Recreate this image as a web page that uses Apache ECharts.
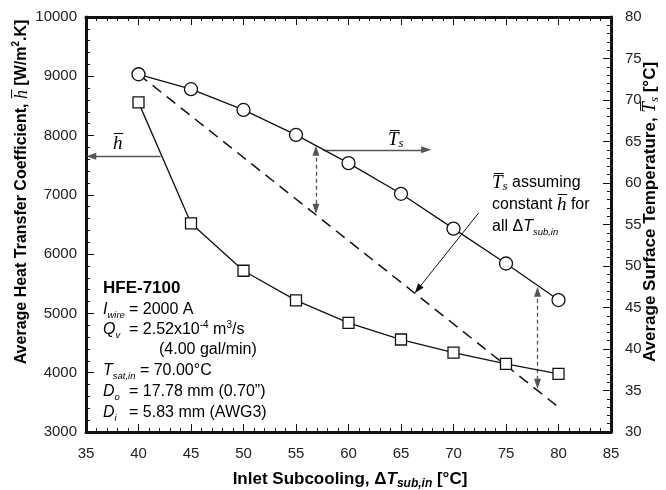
<!DOCTYPE html>
<html><head><meta charset="utf-8">
<script src="https://cdn.jsdelivr.net/npm/echarts/dist/echarts.min.js"></script>
<style>html,body{margin:0;padding:0;background:#fff}#c{width:666px;height:490px}</style>
</head><body><div id="c"></div>
<script>
// ---- data ----
const subcooling = [40, 45, 50, 55, 60, 65, 70, 75, 80];
const hValues = [8560, 6520, 5720, 5220, 4840, 4560, 4340, 4150, 3980];
const tsValues = [73.1, 71.3, 68.8, 65.8, 62.4, 58.7, 54.5, 50.3, 45.9];
const tsConstHx = [40, 80];
const tsConstHy = [73.1, 33.0];
const xRange = [35, 85, 5];
const hRange = [3000, 10000, 1000];
const tsRange = [30, 80, 5];
// annotation arrows (data coordinates)
const hArrow = [[42.1, 7650], [35.5, 7650]];
const tsArrow = [[57.6, 64.0], [67.4, 64.0]];
const gap1 = [[56.9, 63.9], [56.9, 56.9]];
const gap2 = [[78.0, 46.9], [78.0, 35.8]];
const noteArrow = [[72.4, 56.4], [66.6, 47.2]];

const F = '"Liberation Sans", Arial, Helvetica, sans-serif';
const S = '"Liberation Serif", "Times New Roman", serif';
const C = '#111';

const chart = echarts.init(document.getElementById('c'), null, {renderer: 'canvas'});

function xAxisCfg(pos, showLabel) {
  return {
    type: 'value', position: pos, min: xRange[0], max: xRange[1], interval: xRange[2],
    axisLine: {show: true, onZero: false, lineStyle: {color: C, width: 3}},
    axisTick: {show: true, inside: false, length: -8, lineStyle: {color: C, width: 1}},
    minorTick: {show: true, splitNumber: 5, length: -4, lineStyle: {color: C, width: 1}},
    axisLabel: {show: showLabel, margin: 14, fontSize: 15, color: '#222', fontFamily: F, formatter: v => String(v)},
    splitLine: {show: false}, minorSplitLine: {show: false}
  };
}
function yAxisCfg(pos, r, margin) {
  return {
    type: 'value', position: pos, min: r[0], max: r[1], interval: r[2],
    axisLine: {show: true, onZero: false, lineStyle: {color: C, width: 3}},
    axisTick: {show: true, inside: false, length: -8, lineStyle: {color: C, width: 1}},
    minorTick: {show: true, splitNumber: 5, length: -4, lineStyle: {color: C, width: 1}},
    axisLabel: {margin: margin, fontSize: 15, color: '#222', fontFamily: F, formatter: v => String(v)},
    splitLine: {show: false}, minorSplitLine: {show: false}
  };
}
function seg(p, opts, ls) {
  const a = Object.assign({coord: p[0]}, opts.from);
  if (ls) a.lineStyle = ls;
  return [a, Object.assign({coord: p[1]}, opts.to)];
}
const none = {symbol: 'none'};
const tri = {symbol: 'triangle', symbolSize: [7, 10]};
const dashGray = {type: [4, 3], color: '#555', width: 1.3};

const richBlock = {
  n: {fontFamily: F, fontSize: 16, lineHeight: 20, color: C},
  b: {fontFamily: F, fontSize: 17, fontWeight: 'bold', lineHeight: 20, color: C},
  i: {fontFamily: F, fontStyle: 'italic', fontSize: 16, lineHeight: 20, color: C},
  s: {fontFamily: F, fontStyle: 'italic', fontSize: 9.5, verticalAlign: 'bottom', lineHeight: 12, color: C},
  sup: {fontFamily: F, fontSize: 10, verticalAlign: 'top', lineHeight: 11, color: C},
  si: {fontFamily: S, fontStyle: 'italic', fontSize: 19, lineHeight: 20, color: C},
  ss: {fontFamily: S, fontStyle: 'italic', fontSize: 13, verticalAlign: 'bottom', lineHeight: 13, color: C}
};
function richTitle(fs) {
  return {
    t: {fontFamily: F, fontSize: fs, fontWeight: 'bold', lineHeight: 22, color: C},
    ti: {fontFamily: F, fontSize: fs, fontWeight: 'bold', fontStyle: 'italic', lineHeight: 22, color: C},
    ts: {fontFamily: F, fontSize: 12, fontWeight: 'bold', fontStyle: 'italic', verticalAlign: 'bottom', lineHeight: 13, color: C},
    si: {fontFamily: S, fontStyle: 'italic', fontSize: fs + 2, lineHeight: 22, color: C},
    ss: {fontFamily: S, fontStyle: 'italic', fontSize: 13, verticalAlign: 'bottom', lineHeight: 13, color: C},
    sup: {fontFamily: F, fontSize: 10, fontWeight: 'bold', verticalAlign: 'top', lineHeight: 12, color: C}
  };
}
const OL = '\u0305';

function txt(x, y, text, rich, extra) {
  return Object.assign({type: 'text', x: x, y: y, silent: true,
    style: {text: text, rich: rich, align: 'left', verticalAlign: 'middle'}}, extra || {});
}
function title(x, y, text, fs, rot) {
  return {type: 'text', x: x, y: y, silent: true, rotation: rot,
    style: {text: text, rich: richTitle(fs), align: 'center', verticalAlign: 'middle'}};
}

const option = {
  animation: false,
  backgroundColor: '#fff',
  grid: {left: 86, right: 55, top: 17, bottom: 58, containLabel: false, outerBoundsMode: 'none'},
  xAxis: [xAxisCfg('bottom', true), xAxisCfg('top', false)],
  yAxis: [yAxisCfg('left', hRange, 9), yAxisCfg('right', tsRange, 14)],
  series: [
    {
      type: 'line', xAxisIndex: 0, yAxisIndex: 0,
      data: subcooling.map((x, i) => [x, hValues[i]]),
      symbol: 'rect', symbolSize: 11,
      itemStyle: {color: '#fff', borderColor: C, borderWidth: 1.3},
      lineStyle: {color: C, width: 1.3}, z: 5,
      markLine: {
        silent: true, animation: false, label: {show: false}, symbol: 'none',
        lineStyle: {color: '#555', width: 1.3, type: 'solid'},
        data: [seg(hArrow, {from: none, to: tri})]
      }
    },
    {
      type: 'line', xAxisIndex: 0, yAxisIndex: 1,
      data: subcooling.map((x, i) => [x, tsValues[i]]),
      symbol: 'circle', symbolSize: 13,
      itemStyle: {color: '#fff', borderColor: C, borderWidth: 1.3},
      lineStyle: {color: C, width: 1.3}, z: 5,
      markLine: {
        silent: true, animation: false, label: {show: false}, symbol: 'none',
        lineStyle: {color: '#555', width: 1.3, type: 'solid'},
        data: [
          seg(tsArrow, {from: none, to: tri}),
          seg(gap1, {from: tri, to: tri}, dashGray),
          seg(gap2, {from: tri, to: tri}, dashGray),
          seg(noteArrow, {from: none, to: tri}, {type: 'solid', color: '#111', width: 1})
        ]
      }
    },
    {
      type: 'line', xAxisIndex: 0, yAxisIndex: 1,
      data: tsConstHx.map((x, i) => [x, tsConstHy[i]]),
      symbol: 'none', z: 3,
      lineStyle: {color: C, width: 1.5, type: [11, 7]}
    }
  ],
  graphic: [
    title(22, 192, '{t|Average Heat Transfer Coefficient, }{si|h' + OL + '}{t| [W/m}{sup|2}{t|.K]}', 16, Math.PI / 2),
    title(650, 212, '{t|Average Surface Temperature, }{si|T' + OL + '}{ss|s}{t| [°C]}', 17, Math.PI / 2),
    title(350, 479, '{t|Inlet Subcooling, Δ}{ti|T}{ts|sub,in}{t| [°C]}', 17, 0),
    // curve labels
    txt(113, 144, '{si|h' + OL + '}', richBlock),
    txt(388, 140, '{si|T' + OL + '}{ss|s}', richBlock),
    // note
    txt(492, 183, '{si|T' + OL + '}{ss|s}{n| assuming}', richBlock),
    txt(492, 205, '{n|constant }{si|h' + OL + '}{n| for}', richBlock),
    txt(492, 227, '{n|all Δ}{i|T}{s|sub,in}', richBlock),
    // parameter block
    txt(103, 288, '{b|HFE-7100}', richBlock),
    txt(103, 310, '{i|I}{s|wire}', richBlock),
    txt(129, 310, '{n|= 2000 A}', richBlock),
    txt(103, 330, '{i|Q}{s|v}', richBlock),
    txt(129, 330, '{n|= 2.52x10}{sup|-4}{n| m}{sup|3}{n|/s}', richBlock),
    txt(159, 350, '{n|(4.00 gal/min)}', richBlock),
    txt(103, 371, '{i|T}{s|sat,in}{n| = 70.00°C}', richBlock),
    txt(103, 392, '{i|D}{s|o}', richBlock),
    txt(129, 392, '{n|= 17.78 mm (0.70”)}', richBlock),
    txt(103, 413, '{i|D}{s|i}', richBlock),
    txt(129, 413, '{n|= 5.83 mm (AWG3)}', richBlock)
  ]
};
chart.setOption(option);
</script>
</body></html>
